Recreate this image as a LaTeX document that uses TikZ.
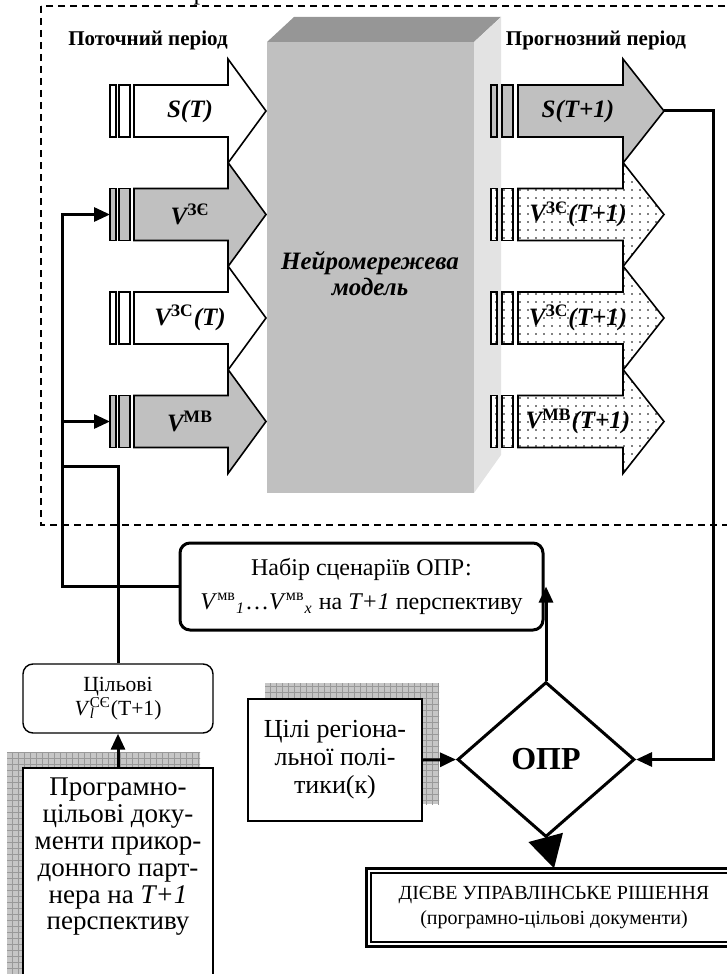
\documentclass[tikz,border=0pt]{standalone}
\usepackage{fontspec}
\setmainfont{Liberation Serif}
\usetikzlibrary{arrows.meta,shapes.geometric,patterns}

\definecolor{boxgray}{RGB}{192,192,192}
\definecolor{topgray}{RGB}{150,150,150}
\definecolor{sidegray}{RGB}{227,227,227}

\pgfdeclarepatternformonly{sparse dots}{\pgfqpoint{-1pt}{-1pt}}{\pgfqpoint{1pt}{1pt}}{\pgfqpoint{4pt}{4pt}}{%
  \pgfpathcircle{\pgfqpoint{0pt}{0pt}}{0.45pt}\pgfusepath{fill}}

\begin{document}
\begin{tikzpicture}[x=0.5pt, y=-0.5pt,
    barrow/.style={draw, line width=0.8pt, line join=miter},
    plainfill/.style={fill=white},
    grayfill/.style={fill=boxgray},
    dotfill/.style={fill=white, postaction={pattern=sparse dots}},
    lbl/.style={font=\fontsize{12.5}{14}\selectfont\bfseries\itshape, inner sep=0pt},
    head/.style={font=\fontsize{10.5}{12}\selectfont\bfseries, inner sep=0pt, anchor=base},
    conn/.style={line width=1.5pt},
    connarrow/.style={conn, -{Triangle[length=8pt,width=7pt]}},
    shadowfill/.style={fill=gray!45, postaction={pattern=grid, pattern color=gray!80}},
    frame/.style={line width=0.65pt, dash pattern=on 3.5pt off 2.5pt}]

    \useasboundingbox (0,0) rectangle (727,974);
    \clip (0,0) rectangle (727,974);

    % title above the frame, cut by the page
    \node[anchor=base, font=\fontsize{13}{15}\selectfont, inner sep=0pt] (cuttitle) at (200,0) {р};

    \draw[frame] (41,6) rectangle (740,525);

    % neural network block
    \fill[boxgray] (267,42) rectangle (474,493);
    \fill[topgray] (267,42) -- (294,17) -- (501,17) -- (474,42) -- cycle;
    \fill[sidegray] (474,42) -- (501,17) -- (501,455) -- (474,493) -- cycle;
    \node[align=center, font=\fontsize{12.5}{13}\selectfont\bfseries\itshape] (nnmodel) at (370,274) {Нейромережева\\модель};

    \node[head] (curhead) at (148,46) {Поточний період};
    \node[head] (forhead) at (596,46) {Прогнозний період};

    % current period inputs
    \foreach \yc/\look/\txt [count=\i] in {111/plainfill/{S(T)}, 214.5/grayfill/{V\textsuperscript{\upshape ЗЄ}},
        318/plainfill/{V\textsuperscript{\upshape ЗС}(T)}, 421.5/grayfill/{V\textsuperscript{\upshape МВ}}} {
        \draw[barrow,\look] (110,\yc-26) rectangle (116,\yc+26);
        \draw[barrow,\look] (119,\yc-26) rectangle (130,\yc+26);
        \draw[barrow,\look] (134,\yc-26) -- (228,\yc-26) -- (228,\yc-52) -- (266,\yc)
            -- (228,\yc+52) -- (228,\yc+26) -- (134,\yc+26) -- cycle;
        \node[lbl] (cur\i) at (190,\yc) {\txt};
    }

    % forecast outputs
    \foreach \yc/\look/\txt [count=\i] in {111/grayfill/{S(T+1)}, 214.5/dotfill/{V\textsuperscript{\upshape ЗЄ}(T+1)},
        318/dotfill/{V\textsuperscript{\upshape ЗС}(T+1)}, 421.5/dotfill/{V\textsuperscript{\upshape МВ}(T+1)}} {
        \draw[barrow,\look] (491,\yc-26) rectangle (497,\yc+26);
        \draw[barrow,\look] (502,\yc-26) rectangle (513,\yc+26);
        \draw[barrow,\look] (518,\yc-26) -- (623,\yc-26) -- (623,\yc-52) -- (664,\yc)
            -- (623,\yc+52) -- (623,\yc+26) -- (518,\yc+26) -- cycle;
        \node[lbl] (fore\i) at (578,\yc) {\txt};
    }

    \coordinate (inZE) at (110,214.5);
    \coordinate (inMB) at (110,421.5);
    \coordinate (forecastS) at (664,111);
    \coordinate (feed) at (713,111);
    \coordinate (busleft) at (62,466);

    % decision part
    \node[draw, line width=1.5pt, rounded corners=5pt, minimum width=181.5pt, minimum height=43.5pt,
        align=center, font=\fontsize{12}{17}\selectfont] (scen) at (361.5,586.5)
        {Набір сценаріїв ОПР:\\\textit{V}\textsuperscript{мв}\textsubscript{\itshape 1}…\textit{V}\textsuperscript{мв}\textsubscript{\itshape x} на \textit{T+1} перспективу};

    \node[draw, line width=0.7pt, rounded corners=5pt, minimum width=95pt, minimum height=34.5pt,
        align=center, font=\fontsize{10.8}{11}\selectfont] (target) at (118,698.5)
        {Цільові\\\textit{V}\rlap{\textsubscript{\itshape l}}\textsuperscript{CЄ}(T+1)};

    \fill[shadowfill] (7,752) rectangle (200,990);
    \node[draw, fill=white, line width=0.7pt, minimum width=95pt, minimum height=111pt] (progdoc) at (118,879) {};
    \node[align=center, inner sep=0pt, font=\fontsize{13.5}{13.4}\selectfont] (progtext) at (118,857)
        {Програмно-\\цільові доку-\\менти прикор-\\донного парт-\\нера на \textit{T+1}\\перспективу};

    \fill[shadowfill] (265,683) rectangle (439,804);
    \node[draw, fill=white, line width=0.7pt, minimum width=87pt, minimum height=61pt,
        align=center, font=\fontsize{13}{14}\selectfont] (goals) at (335,760)
        {Цілі регіона-\\льної полі-\\тики(к)};

    \node[diamond, draw, line width=1.5pt, minimum width=88.5pt, minimum height=77.5pt, inner sep=0pt,
        font=\fontsize{16}{18}\selectfont\bfseries] (opr) at (546,759.5) {ОПР};

    \node[draw, line width=0.7pt, minimum width=183pt, minimum height=34.5pt, align=center,
        font=\fontsize{10}{12.5}\selectfont] (result) at (554,907.5)
        {ДІЄВЕ УПРАВЛІНСЬКЕ РІШЕННЯ\\(програмно-цільові документи)};
    \draw[line width=1.3pt] ([shift={(-2pt,2pt)}]result.north west) rectangle ([shift={(2pt,-2pt)}]result.south east);

    % connectors
    \draw[connarrow] (scen.west) -| (busleft |- inZE) -- (inZE);
    \draw[connarrow] (busleft |- inMB) -- (inMB);
    \draw[conn] (target.north) |- (busleft);
    \draw[connarrow] (progdoc.north) -- (target.south);
    \draw[connarrow] (goals.east) -- (opr.west);
    \draw[connarrow] (forecastS) -| (feed |- opr.east) -- (opr.east);
    \draw[connarrow] (opr.north) -- (opr.north |- scen.east);
    \draw[line width=1.5pt, -{Triangle[length=16pt,width=17.5pt]}] (opr.south) -- ([yshift=2pt]result.north);
\end{tikzpicture}
\end{document}
